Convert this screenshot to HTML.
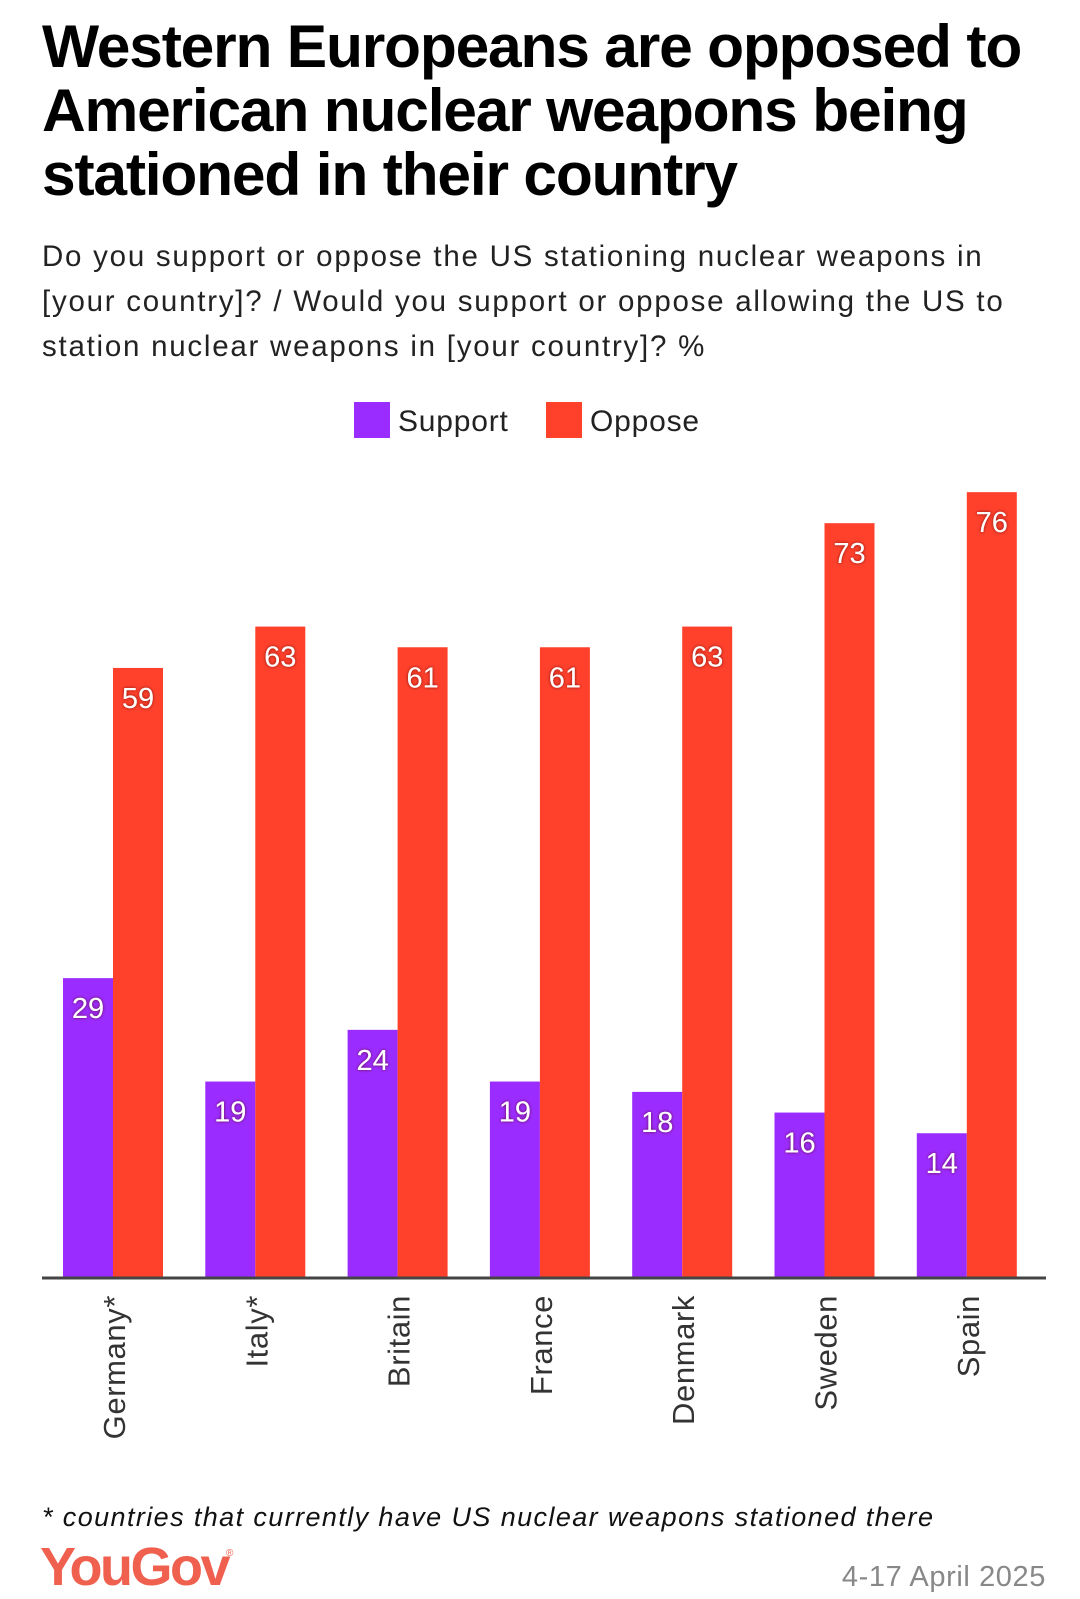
<!DOCTYPE html>
<html><head><meta charset="utf-8">
<style>
body{margin:0;background:#fff;width:1080px;height:1599px;overflow:hidden;font-family:"Liberation Sans",sans-serif;}
#title{position:absolute;left:42px;top:14px;font-size:60.5px;font-weight:bold;line-height:64px;color:#000;letter-spacing:-1.2px;width:1060px;margin:0;white-space:nowrap}
#sub{position:absolute;left:42px;top:234px;font-size:29.5px;line-height:45px;color:#222;width:1040px;margin:0;letter-spacing:1.75px;white-space:nowrap}
svg{position:absolute;left:0;top:0}
</style></head><body>
<h1 id="title">Western Europeans are opposed to<br>American nuclear weapons being<br>stationed in their country</h1>
<p id="sub">Do you support or oppose the US stationing nuclear weapons in<br>[your country]? / Would you support or oppose allowing the US to<br>station nuclear weapons in [your country]? %</p>
<svg id="chart" width="1080" height="1599">
<defs><filter id="sh" x="-20%" y="-20%" width="140%" height="140%"><feDropShadow dx="0" dy="0" stdDeviation="1.5" flood-color="#5a0000" flood-opacity="0.8"/></filter></defs>
<g>
<rect x="354" y="402" width="36" height="36" fill="#9b2cff"/>
<text x="398" y="431" font-size="30" letter-spacing="0.8" fill="#222">Support</text>
<rect x="546" y="402" width="36" height="36" fill="#ff412c"/>
<text x="590" y="431" font-size="30" letter-spacing="0.8" fill="#222">Oppose</text>
</g>
<g id="bars"></g>
<line x1="42" y1="1278" x2="1046" y2="1278" stroke="#444" stroke-width="3"/>
<text x="42" y="1526" font-size="27" font-style="italic" letter-spacing="1.4" fill="#111">* countries that currently have US nuclear weapons stationed there</text>
<text x="40" y="1585" font-size="54" font-weight="bold" fill="#f0604f" letter-spacing="-2.5">YouGov</text>
<text x="226" y="1556" font-size="10" fill="#f0604f">®</text>
<text x="1046" y="1586" font-size="29" letter-spacing="0.6" fill="#888" text-anchor="end">4-17 April 2025</text>
</svg>
<script>
const categories=["Germany*","Italy*","Britain","France","Denmark","Sweden","Spain"];
const support=[29,19,24,19,18,16,14];
const oppose=[59,63,61,61,63,73,76];
const base=1278, unit=10.34, x0=113, step=142.3, bw=50;
function yPos(v){return base-v*unit;}
function xCenter(i){return x0+i*step;}
const g=document.getElementById('bars');
const NS='http://www.w3.org/2000/svg';
function bar(x,v,color,name){
  const r=document.createElementNS(NS,'rect');
  r.setAttribute('x',x);r.setAttribute('y',yPos(v));r.setAttribute('width',bw);r.setAttribute('height',v*unit);r.setAttribute('fill',color);
  
  
  g.appendChild(r);
  const t=document.createElementNS(NS,'text');
  t.setAttribute('x',x+bw/2);t.setAttribute('y',yPos(v)+40);t.setAttribute('font-size','29');t.setAttribute('fill','#fff');t.setAttribute('text-anchor','middle');t.setAttribute('filter','url(#sh)');
  t.textContent=v;
  
  
  g.appendChild(t);
}
categories.forEach((c,i)=>{
  const cx=xCenter(i);
  bar(cx-bw,support[i],'#9b2cff','bar-support-'+i);
  bar(cx,oppose[i],'#ff412c','bar-oppose-'+i);
  const t=document.createElementNS(NS,'text');
  t.setAttribute('transform','translate('+(cx+12)+',1295) rotate(-90)');
  t.setAttribute('text-anchor','end');t.setAttribute('font-size','31');t.setAttribute('letter-spacing','0.6');t.setAttribute('fill','#333');
  t.textContent=c;
  
  
  g.appendChild(t);
});
</script>
</body></html>
